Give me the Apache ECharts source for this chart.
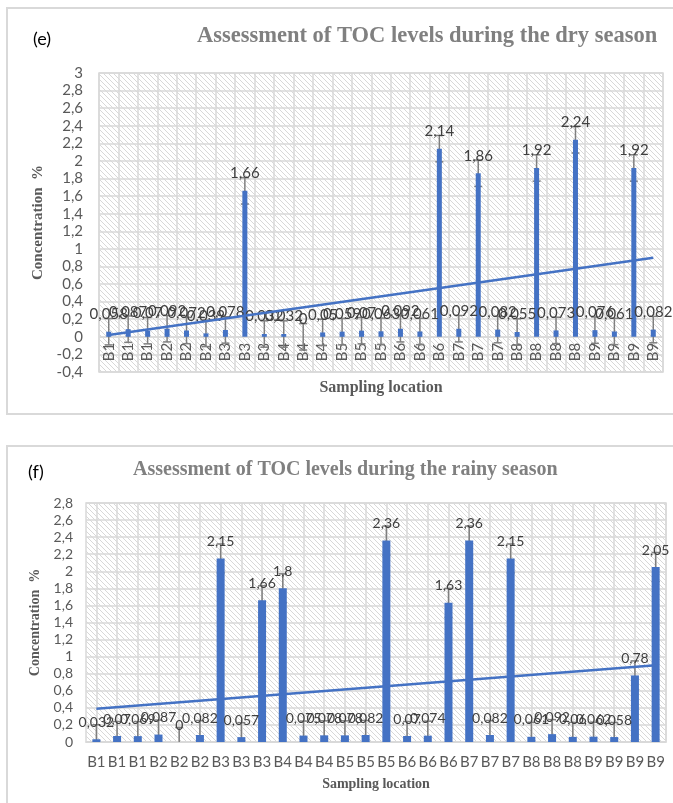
<!DOCTYPE html>
<html>
<head>
<meta charset="utf-8">
<script src="https://cdn.jsdelivr.net/npm/echarts@6/dist/echarts.min.js"></script>
<style>
  html, body { margin: 0; padding: 0; background: #ffffff; }
  #chart { width: 673px; height: 803px; }
</style>
</head>
<body>
<div id="chart"></div>
<script>
// (e) dry season
const catsDry = ['B1', 'B1', 'B1', 'B2', 'B2', 'B2', 'B3', 'B3', 'B3', 'B4', 'B4', 'B4', 'B5', 'B5', 'B5',
  'B6', 'B6', 'B6', 'B7', 'B7', 'B7', 'B8', 'B8', 'B8', 'B8', 'B9', 'B9', 'B9', 'B9']
const tocDry = [0.058, 0.087, 0.07, 0.092, 0.072, 0.039, 0.078, 1.66, 0.032, 0.032, 0, 0.05, 0.059, 0.07, 0.063,
  0.092, 0.061, 2.14, 0.092, 1.86, 0.082, 0.055, 1.92, 0.073, 2.24, 0.076, 0.061, 1.92, 0.082]
const errDry = 0.15
const trendDry = [0.02, 0.90] // linear trendline, first and last category

// (f) rainy season
const catsRainy = ['B1', 'B1', 'B1', 'B2', 'B2', 'B2', 'B3', 'B3', 'B3', 'B4', 'B4', 'B4', 'B5', 'B5', 'B5',
  'B6', 'B6', 'B6', 'B7', 'B7', 'B7', 'B8', 'B8', 'B8', 'B9', 'B9', 'B9', 'B9']
const tocRainy = [0.032, 0.07, 0.069, 0.087, 0, 0.082, 2.15, 0.057, 1.66, 1.8, 0.075, 0.078, 0.078, 0.082, 2.36,
  0.07, 0.074, 1.63, 2.36, 0.082, 2.15, 0.061, 0.092, 0.06, 0.062, 0.058, 0.78, 2.05]
const errRainy = 0.17
const trendRainy = [0.39, 0.90]

const blue = '#4472C4'
const gridGray = '#d9d9d9'
const tickGray = '#595959'
const sans = 'Lato'
const serif = 'Liberation Serif'

const dryTop = 73
const dryHeight = 299
const dryMin = -0.4
const dryMax = 3

function comma (v) {
  return String(Math.round(v * 1000) / 1000).replace('.', ',')
}

// diagonal hatch used as plot background
function hatch () {
  const c = document.createElement('canvas')
  c.width = 5
  c.height = 5
  const ctx = c.getContext('2d')
  ctx.fillStyle = '#ffffff'
  ctx.fillRect(0, 0, 5, 5)
  ctx.strokeStyle = '#d8d8d8'
  ctx.lineWidth = 1
  ctx.beginPath()
  ctx.moveTo(-1, -1); ctx.lineTo(6, 6)
  ctx.moveTo(-1, 4); ctx.lineTo(1, 6)
  ctx.moveTo(4, -1); ctx.lineTo(6, 1)
  ctx.stroke()
  return c
}
const bg = { image: hatch(), repeat: 'repeat' }

function errorItem (params, api) {
  const x = api.value(0)
  const lo = api.coord([x, api.value(1)])
  const hi = api.coord([x, api.value(2)])
  const half = 4
  const style = { stroke: '#7f7f7f', lineWidth: 1.5 }
  const cs = params.coordSys
  return {
    type: 'group',
    clipPath: { type: 'rect', shape: { x: cs.x, y: cs.y, width: cs.width, height: cs.height } },
    children: [
      { type: 'line', shape: { x1: lo[0], y1: lo[1], x2: hi[0], y2: hi[1] }, style },
      { type: 'line', shape: { x1: lo[0] - half, y1: lo[1], x2: lo[0] + half, y2: lo[1] }, style },
      { type: 'line', shape: { x1: hi[0] - half, y1: hi[1], x2: hi[0] + half, y2: hi[1] }, style }
    ]
  }
}

const halfSlots = catsRainy.concat(catsRainy).map((c, i) => i)

// the dry-season category axis sits on the zero line
const zeroShift = dryHeight * (0 - dryMin) / (dryMax - dryMin)

const myChart = echarts.init(document.getElementById('chart'))
myChart.setOption({
  animation: false,
  title: [
    {
      text: 'Assessment of TOC levels during the dry season',
      left: 197,
      top: 25,
      padding: 0,
      textStyle: { fontFamily: serif, fontWeight: 'bold', fontSize: 22.5, color: '#808080' }
    },
    {
      text: 'Assessment of TOC levels during the rainy season',
      left: 133,
      top: 460,
      padding: 0,
      textStyle: { fontFamily: serif, fontWeight: 'bold', fontSize: 20, color: '#808080' }
    }
  ],
  graphic: [
    { type: 'rect', shape: { x: 7, y: 8, width: 700, height: 406 }, style: { fill: 'none', stroke: gridGray, lineWidth: 2 } },
    { type: 'rect', shape: { x: 7, y: 446, width: 700, height: 400 }, style: { fill: 'none', stroke: gridGray, lineWidth: 2 } },
    { type: 'text', x: 33, y: 30, style: { text: '(e)', fontFamily: sans, fontSize: 18, fill: '#000000' } },
    { type: 'text', x: 28, y: 463, style: { text: '(f)', fontFamily: sans, fontSize: 18, fill: '#000000' } }
  ],
  grid: [
    { left: 99, top: dryTop, width: 564, height: dryHeight, show: true, backgroundColor: bg, borderColor: gridGray, borderWidth: 1.5 },
    { left: 86, top: 503, width: 580, height: 239, show: true, backgroundColor: bg, borderColor: gridGray, borderWidth: 1.5 }
  ],
  xAxis: [
    {
      gridIndex: 0,
      type: 'category',
      data: catsDry,
      offset: -zeroShift,
      axisLine: { onZero: false, lineStyle: { color: gridGray, width: 1.5 } },
      axisTick: { show: false },
      axisLabel: { rotate: 90, interval: 0, fontFamily: sans, fontSize: 15, color: tickGray, margin: 6 },
      splitLine: { show: true, lineStyle: { color: gridGray, width: 1.5 } },
      name: 'Sampling location',
      nameLocation: 'middle',
      nameGap: 43,
      nameTextStyle: { fontFamily: serif, fontWeight: 'bold', fontSize: 16, color: tickGray }
    },
    {
      gridIndex: 1,
      type: 'category',
      data: catsRainy,
      axisLine: { lineStyle: { color: gridGray, width: 1.5 } },
      axisTick: { show: false },
      axisLabel: { interval: 0, fontFamily: sans, fontSize: 15, color: tickGray, margin: 13 },
      splitLine: { show: false },
      name: 'Sampling location',
      nameLocation: 'middle',
      nameGap: 35,
      nameTextStyle: { fontFamily: serif, fontWeight: 'bold', fontSize: 14, color: tickGray }
    },
    {
      // helper axis: vertical grid lines through the bar centres
      gridIndex: 1,
      type: 'category',
      position: 'top',
      data: halfSlots,
      axisLine: { show: false },
      axisTick: { show: false },
      axisLabel: { show: false },
      splitLine: { show: true, interval: (i) => i % 2 === 1, lineStyle: { color: gridGray, width: 1.5 } }
    }
  ],
  yAxis: [
    {
      gridIndex: 0,
      type: 'value',
      min: dryMin,
      max: dryMax,
      interval: 0.2,
      axisLine: { show: false },
      axisTick: { show: false },
      axisLabel: { formatter: comma, fontFamily: sans, fontSize: 15, color: tickGray, margin: 16 },
      splitLine: { lineStyle: { color: gridGray, width: 1.5 } },
      name: 'Concentration  %',
      nameLocation: 'middle',
      nameRotate: 90,
      nameGap: 42,
      nameTextStyle: { fontFamily: serif, fontWeight: 'bold', fontSize: 15, color: tickGray }
    },
    {
      gridIndex: 1,
      type: 'value',
      min: 0,
      max: 2.8,
      interval: 0.2,
      axisLine: { show: false },
      axisTick: { show: false },
      axisLabel: { formatter: comma, fontFamily: sans, fontSize: 14, color: tickGray, margin: 13 },
      splitLine: { lineStyle: { color: gridGray, width: 1.5 } },
      name: 'Concentration  %',
      nameLocation: 'middle',
      nameRotate: 90,
      nameGap: 34,
      nameTextStyle: { fontFamily: serif, fontWeight: 'bold', fontSize: 14, color: tickGray }
    }
  ],
  series: [
    {
      type: 'bar',
      xAxisIndex: 0,
      yAxisIndex: 0,
      data: tocDry,
      barWidth: 5,
      itemStyle: { color: blue },
      label: { show: true, position: 'top', distance: 10, formatter: (p) => comma(p.value), fontFamily: sans, fontSize: 15, color: '#404040' }
    },
    {
      type: 'custom',
      xAxisIndex: 0,
      yAxisIndex: 0,
      renderItem: errorItem,
      encode: { x: 0, y: [1, 2] },
      data: tocDry.map((v, i) => [i, v - errDry, v + errDry])
    },
    {
      type: 'line',
      xAxisIndex: 0,
      yAxisIndex: 0,
      symbol: 'none',
      lineStyle: { color: blue, width: 2.5 },
      data: [[0, trendDry[0]], [catsDry.length - 1, trendDry[1]]]
    },
    {
      type: 'bar',
      xAxisIndex: 1,
      yAxisIndex: 1,
      data: tocRainy,
      barWidth: 8,
      itemStyle: { color: blue },
      label: { show: true, position: 'top', distance: 10, formatter: (p) => comma(p.value), fontFamily: sans, fontSize: 14, color: '#404040' }
    },
    {
      type: 'custom',
      xAxisIndex: 1,
      yAxisIndex: 1,
      renderItem: errorItem,
      encode: { x: 0, y: [1, 2] },
      data: tocRainy.map((v, i) => [i, v - errRainy, v + errRainy])
    },
    {
      type: 'line',
      xAxisIndex: 1,
      yAxisIndex: 1,
      symbol: 'none',
      lineStyle: { color: blue, width: 2.5 },
      data: [[0, trendRainy[0]], [catsRainy.length - 1, trendRainy[1]]]
    }
  ]
})
</script>
</body>
</html>
